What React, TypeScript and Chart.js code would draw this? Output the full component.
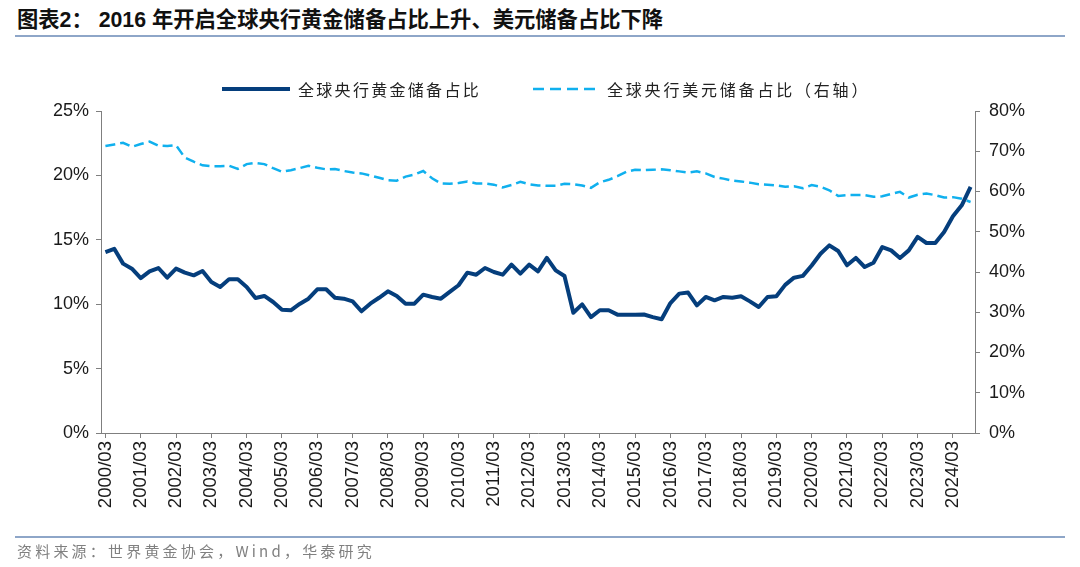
import React, { useEffect, useRef } from 'react';
import { Chart, registerables } from 'chart.js';

Chart.register(...registerables);

const years: number[] = [2000, 2001, 2002, 2003, 2004, 2005, 2006, 2007, 2008, 2009, 2010, 2011, 2012, 2013, 2014, 2015, 2016, 2017, 2018, 2019, 2020, 2021, 2022, 2023, 2024];
const months: string[] = ['03', '06', '09', '12'];
const lastLabel = '2024/09';

const categories: string[] = [];
for (const y of years) {
  for (const m of months) {
    categories.push(`${y}/${m}`);
  }
}
categories.splice(categories.indexOf(lastLabel) + 1);

// 全球央行黄金储备占比 (%), left axis
const goldShare: number[] = [
  14.05, 14.3, 13.15, 12.76, 12.03, 12.55, 12.81, 12.06, 12.76, 12.45,
  12.24, 12.58, 11.72, 11.34, 11.93, 11.93, 11.34, 10.48, 10.64, 10.17,
  9.57, 9.53, 10.02, 10.43, 11.16, 11.16, 10.5, 10.43, 10.22, 9.45,
  10.04, 10.5, 11.0, 10.64, 10.04, 10.04, 10.74, 10.56, 10.43, 10.95,
  11.47, 12.45, 12.29, 12.81, 12.5, 12.29, 13.07, 12.37, 13.07, 12.55,
  13.59, 12.63, 12.19, 9.34, 9.99, 9.0, 9.53, 9.53, 9.19, 9.19,
  9.19, 9.2, 9.0, 8.83, 10.09, 10.82, 10.9, 9.91, 10.56, 10.3,
  10.56, 10.5, 10.61, 10.22, 9.78, 10.56, 10.61, 11.5, 12.06, 12.2,
  13.0, 13.92, 14.57, 14.13, 13.02, 13.59, 12.89, 13.22, 14.44, 14.18,
  13.59, 14.18, 15.22, 14.75, 14.75, 15.61, 16.82, 17.68, 19.1,
];

// 全球央行美元储备占比 (%), right axis
const usdShare: number[] = [
  71.3, 71.7, 72.1, 71.1, 71.8, 72.4, 71.4, 71.3, 71.5, 68.4,
  67.4, 66.5, 66.3, 66.3, 66.4, 65.6, 66.8, 67.1, 66.8, 65.8,
  64.9, 65.3, 65.8, 66.4, 65.9, 65.5, 65.6, 65.1, 64.7, 64.5,
  64.0, 63.4, 62.8, 62.7, 63.7, 64.2, 65.1, 63.3, 62.0, 61.9,
  62.1, 62.5, 62.0, 62.0, 61.7, 61.0, 61.6, 62.4, 61.8, 61.5,
  61.4, 61.4, 61.9, 61.8, 61.5, 60.9, 62.3, 62.9, 63.8, 64.9,
  65.4, 65.3, 65.4, 65.5, 65.3, 65.0, 64.7, 65.0, 64.5, 63.6,
  63.2, 62.7, 62.5, 62.2, 61.8, 61.7, 61.5, 61.2, 61.3, 60.8,
  61.6, 61.2, 60.3, 58.9, 59.1, 59.1, 59.1, 58.7, 58.8, 59.4,
  59.9, 58.5, 59.2, 59.5, 59.1, 58.5, 58.6, 58.2, 57.4,
];

const leftTicks: number[] = [0, 5, 10, 15, 20, 25];
const rightTicks: number[] = [0, 10, 20, 30, 40, 50, 60, 70, 80];

const titleText = '图表2： 2016 年开启全球央行黄金储备占比上升、美元储备占比下降';
const goldLabel = '全球央行黄金储备占比';
const usdLabel = '全球央行美元储备占比（右轴）';
const sourceText = '资料来源：世界黄金协会，Wind，华泰研究';

const GOLD = '#053e7c';
const USD = '#10b0ee';
const AXIS = '#7f7f7f';
const TICKFONT = { family: '"Liberation Sans", Arial, sans-serif', size: 18 };
const XTICKFONT = { family: '"Liberation Sans", Arial, sans-serif', size: 18.6 };

export default function App() {
  const ref = useRef<HTMLCanvasElement | null>(null);

  useEffect(() => {
    if (!ref.current) return;
    const chart = new Chart(ref.current, {
      type: 'line',
      data: {
        labels: categories,
        datasets: [
          {
            label: goldLabel,
            data: goldShare,
            yAxisID: 'y',
            borderColor: GOLD,
            borderWidth: 4,
            pointRadius: 0,
            tension: 0,
            borderJoinStyle: 'round',
            fill: false,
          },
          {
            label: usdLabel,
            data: usdShare,
            yAxisID: 'y1',
            borderColor: USD,
            borderWidth: 2.5,
            borderDash: [10, 5],
            pointRadius: 0,
            tension: 0,
            fill: false,
          },
        ],
      },
      options: {
        animation: false,
        responsive: false,
        maintainAspectRatio: false,
        layout: { padding: { top: 111, left: 0, right: 0, bottom: 0 } },
        plugins: {
          legend: { display: false },
          tooltip: { enabled: false },
          title: { display: false },
        },
        scales: {
          x: {
            type: 'category',
            offset: true,
            grid: {
              display: true,
              drawOnChartArea: false,
              drawTicks: true,
              tickLength: 5,
              color: AXIS,
              offset: false,
            },
            border: { display: true, color: AXIS, width: 1 },
            ticks: {
              autoSkip: false,
              minRotation: 90,
              maxRotation: 90,
              padding: 3,
              color: '#1a1a1a',
              font: XTICKFONT,
              callback: function (this: any, v: any, i: number) {
                return i % 4 === 0 ? categories[i] : null;
              },
            },
            afterFit: (s: any) => {
              s.height = 567 - 433;
            },
          },
          y: {
            position: 'left',
            min: 0,
            max: 25,
            grid: { display: true, drawOnChartArea: false, drawTicks: true, tickLength: 5, color: AXIS },
            border: { display: true, color: AXIS, width: 1 },
            afterBuildTicks: (s: any) => {
              s.ticks = leftTicks.map((v) => ({ value: v }));
            },
            ticks: {
              padding: 7,
              color: '#1a1a1a',
              font: TICKFONT,
              callback: (v: any) => `${v}%`,
            },
            afterFit: (s: any) => {
              s.width = 101;
            },
          },
          y1: {
            position: 'right',
            min: 0,
            max: 80,
            grid: { display: true, drawOnChartArea: false, drawTicks: true, tickLength: 5, color: AXIS },
            border: { display: true, color: AXIS, width: 1 },
            afterBuildTicks: (s: any) => {
              s.ticks = rightTicks.map((v) => ({ value: v }));
            },
            ticks: {
              padding: 9,
              color: '#1a1a1a',
              font: TICKFONT,
              callback: (v: any) => `${v}%`,
            },
            afterFit: (s: any) => {
              s.width = 1080 - 975;
            },
          },
        },
      },
    } as any);
    return () => chart.destroy();
  }, []);

  const cjk = '"Noto Sans CJK SC", "Liberation Sans", sans-serif';

  return (
    <div style={{ position: 'absolute', left: 0, top: 0, width: 1080, height: 567, background: '#fff', overflow: 'hidden' }}>
      <div
        style={{
          position: 'absolute',
          left: 17,
          top: 7,
          height: 26,
          lineHeight: '26px',
          fontFamily: '"Liberation Sans", "Noto Sans CJK SC", sans-serif',
          fontWeight: 700,
          fontSize: 21.3,
          color: '#111',
          whiteSpace: 'nowrap',
        }}
      >
        {titleText}
      </div>
      <div style={{ position: 'absolute', left: 15, top: 35, width: 1050, height: 1.5, background: '#8ea6c8' }} />

      <canvas ref={ref} width={1080} height={567} style={{ position: 'absolute', left: 0, top: 0, width: 1080, height: 567 }} />

      <div style={{ position: 'absolute', left: 222, top: 87, width: 68, height: 4, background: GOLD }} />
      <div
        style={{
          position: 'absolute',
          left: 298,
          top: 79,
          height: 20,
          lineHeight: '20px',
          fontFamily: cjk,
          fontSize: 16,
          letterSpacing: 2.3,
          color: '#222',
          whiteSpace: 'nowrap',
        }}
      >
        {goldLabel}
      </div>
      <svg style={{ position: 'absolute', left: 533, top: 84, width: 66, height: 10 }} width={66} height={10}>
        <line x1={0} y1={5} x2={66} y2={5} stroke={USD} strokeWidth={2.5} strokeDasharray="11 6" />
      </svg>
      <div
        style={{
          position: 'absolute',
          left: 607,
          top: 79,
          height: 20,
          lineHeight: '20px',
          fontFamily: cjk,
          fontSize: 16,
          letterSpacing: 2.8,
          color: '#222',
          whiteSpace: 'nowrap',
        }}
      >
        {usdLabel}
      </div>

      <div style={{ position: 'absolute', left: 15, top: 536, width: 1050, height: 1.5, background: '#8ea6c8' }} />
      <div
        style={{
          position: 'absolute',
          left: 17,
          top: 541,
          height: 20,
          lineHeight: '20px',
          fontFamily: cjk,
          fontSize: 15,
          letterSpacing: 3.2,
          color: '#808080',
          whiteSpace: 'nowrap',
        }}
      >
        {sourceText}
      </div>
    </div>
  );
}
